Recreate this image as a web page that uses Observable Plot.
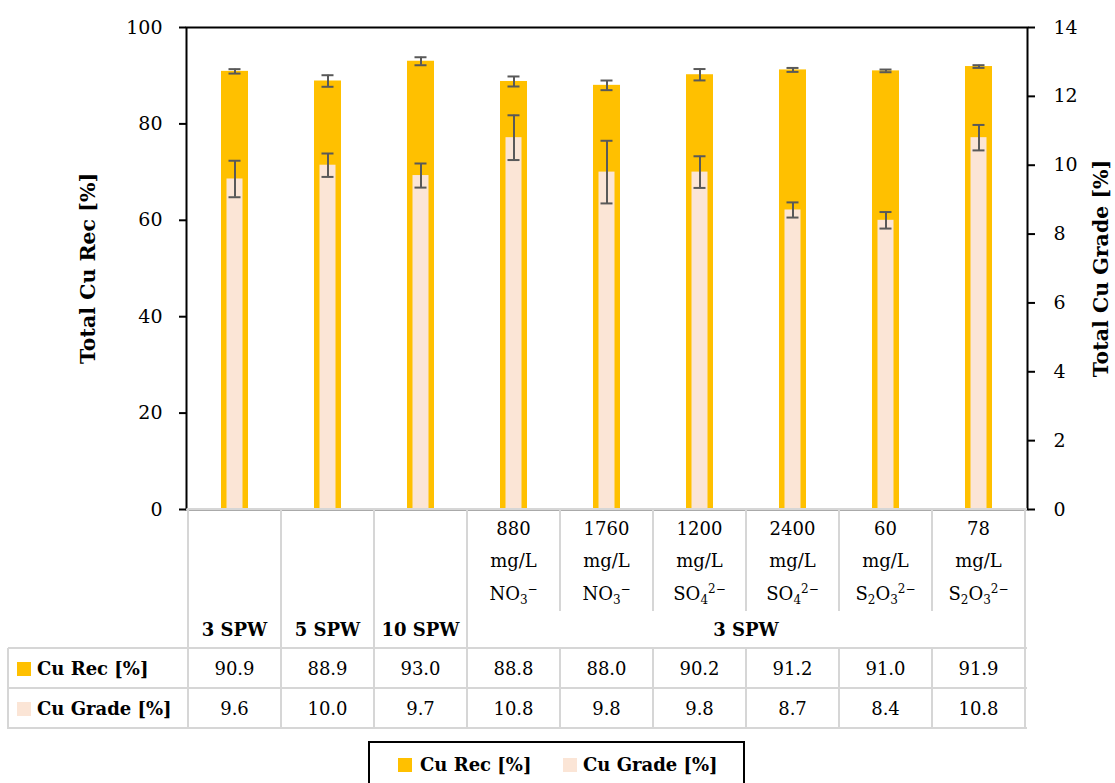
<!DOCTYPE html>
<html><head><meta charset="utf-8">
<script src="https://cdn.jsdelivr.net/npm/d3@7"></script>
<script src="https://cdn.jsdelivr.net/npm/@observablehq/plot@0.6"></script>
<style>
body{margin:0;background:#fff;}
#wrap{position:relative;width:1115px;height:783px;overflow:hidden;font-family:"DejaVu Serif",serif;color:#000;}
#wrap svg{position:absolute;left:0;top:0;}
.hl{position:absolute;height:2px;background:#d6d6d6;}
.vl{position:absolute;width:2px;background:#d6d6d6;}
.t{position:absolute;font-size:18px;line-height:18px;white-space:nowrap;transform:translate(-50%,-50%);}
.b{font-weight:bold;}
.t sub,.t sup{font-size:12px;line-height:0;}
.t sub{vertical-align:-4px;}
.t sup{vertical-align:7px;}
.sw{position:absolute;width:14px;height:14px;}
</style></head><body><div id="wrap"></div>
<script>
// ---- data ----
const categories = ["3 SPW", "5 SPW", "10 SPW", "880 NO3", "1760 NO3", "1200 SO4", "2400 SO4", "60 S2O3", "78 S2O3"];
const spwLabels = ["3 SPW", "5 SPW", "10 SPW", "", "", "", "", "", ""];
const concentrations = ["", "", "", "880", "1760", "1200", "2400", "60", "78"];
const units = ["", "", "", "mg/L", "mg/L", "mg/L", "mg/L", "mg/L", "mg/L"];
const ions = ["", "", "", "NO<sub>3</sub><sup>−</sup>", "NO<sub>3</sub><sup>−</sup>", "SO<sub>4</sub><sup>2−</sup>", "SO<sub>4</sub><sup>2−</sup>", "S<sub>2</sub>O<sub>3</sub><sup>2−</sup>", "S<sub>2</sub>O<sub>3</sub><sup>2−</sup>"];
const groupLabel = "3 SPW";
const recValues = [90.9, 88.9, 93.0, 88.8, 88.0, 90.2, 91.2, 91.0, 91.9];
const recErrors = [0.46, 1.2, 0.83, 1.04, 1.0, 1.18, 0.41, 0.28, 0.28];
const gradeValues = [9.6, 10.0, 9.7, 10.8, 9.8, 9.8, 8.7, 8.4, 10.8];
const gradeErrors = [0.53, 0.34, 0.35, 0.65, 0.91, 0.46, 0.22, 0.24, 0.37];
const leftTicks = [0, 20, 40, 60, 80, 100];
const rightTicks = [0, 2, 4, 6, 8, 10, 12, 14];
const recLabel = "Cu Rec [%]";
const gradeLabel = "Cu Grade [%]";
const leftTitle = "Total Cu Rec [%]";
const rightTitle = "Total Cu Grade [%]";

const recColor = "#FFC000";
const gradeColor = "#FBE5D6";
const errColor = "#595959";
const ratio = 100 / 14; // right axis max 14 maps to left axis max 100

const rows = categories.map((c, i) => ({
  cat: c,
  rec: recValues[i], recErr: recErrors[i],
  grade: gradeValues[i] * ratio, gradeErr: gradeErrors[i] * ratio
}));

const cap = {x: "cat", stroke: errColor, strokeWidth: 2, insetLeft: 40.5, insetRight: 40.5};

const chart = Plot.plot({
  width: 1115, height: 530,
  marginTop: 27, marginBottom: 21, marginLeft: 186, marginRight: 88,
  style: {fontFamily: "DejaVu Serif", fontSize: "18px", color: "#000", background: "transparent"},
  x: {domain: categories, padding: 0, axis: null},
  y: {domain: [0, 100], axis: null},
  marks: [
    Plot.barY(rows, {x: "cat", y: "rec", fill: recColor, insetLeft: 33, insetRight: 33}),
    Plot.barY(rows, {x: "cat", y: "grade", fill: gradeColor, insetLeft: 38.5, insetRight: 38.5}),
    Plot.ruleX(rows, {x: "cat", y1: d => d.rec - d.recErr, y2: d => d.rec + d.recErr, stroke: errColor, strokeWidth: 2}),
    Plot.tickY(rows, {...cap, y: d => d.rec - d.recErr}),
    Plot.tickY(rows, {...cap, y: d => d.rec + d.recErr}),
    Plot.ruleX(rows, {x: "cat", y1: d => d.grade - d.gradeErr, y2: d => d.grade + d.gradeErr, stroke: errColor, strokeWidth: 2}),
    Plot.tickY(rows, {...cap, y: d => d.grade - d.gradeErr}),
    Plot.tickY(rows, {...cap, y: d => d.grade + d.gradeErr}),
    Plot.frame({stroke: "#000", strokeWidth: 2}),
    Plot.ruleY([0], {stroke: "#d6d6d6", strokeWidth: 2}),
    Plot.axisY(leftTicks, {anchor: "left", tickSize: 7, tickPadding: 17, strokeWidth: 2, label: null, fontSize: 19}),
    Plot.axisY(rightTicks.map(v => v * ratio), {anchor: "right", tickSize: 7, tickPadding: 19, strokeWidth: 2, label: null, fontSize: 19, tickFormat: v => String(Math.round(v / ratio))}),
    Plot.text([leftTitle], {frameAnchor: "left", rotate: -90, dx: -98, textAnchor: "middle", fontWeight: "bold", fontSize: 20.5}),
    Plot.text([rightTitle], {frameAnchor: "right", rotate: -90, dx: 74, textAnchor: "middle", fontWeight: "bold", fontSize: 20.5})
  ]
});

const wrap = document.getElementById("wrap");
wrap.appendChild(chart);

// ---- table below, aligned with the x scale ----
const xs = chart.scale("x");
const bw = xs.bandwidth;
const x0 = xs.apply(categories[0]);
const xEnd = xs.apply(categories[categories.length - 1]) + bw;
const tableTop = 509, splitY = 610, row1 = 648, row2 = 688, row3 = 728, tableLeft = 8;

function add(cls, style, html) {
  const d = document.createElement("div");
  d.className = cls;
  Object.assign(d.style, style);
  if (html != null) d.innerHTML = html;
  wrap.appendChild(d);
  return d;
}
function hl(xa, xb, y) { add("hl", {left: xa + "px", top: (y - 1) + "px", width: (xb - xa + 2) + "px"}); }
function vl(x, ya, yb) { add("vl", {left: (x - 1) + "px", top: ya + "px", height: (yb - ya + 1) + "px"}); }
function txt(cx, cy, html, bold) { add("t" + (bold ? " b" : ""), {left: cx + "px", top: cy + "px"}, html); }

hl(x0 - 1, xEnd, tableTop);
hl(tableLeft, xEnd, row1);
hl(tableLeft, xEnd, row2);
hl(tableLeft, xEnd, row3);
vl(tableLeft, row1, row3);
categories.forEach((c, i) => {
  const xl = xs.apply(c);
  if (i <= 3) vl(xl, tableTop, row3);
  else { vl(xl, tableTop, splitY); vl(xl, row1, row3); }
});
vl(xEnd, tableTop, row3);

categories.forEach((c, i) => {
  const cx = xs.apply(c) + bw / 2;
  if (spwLabels[i]) txt(cx, 630, spwLabels[i], true);
  if (concentrations[i]) {
    txt(cx, 529, concentrations[i], false);
    txt(cx, 561, units[i], false);
    txt(cx, 594, ions[i], false);
  }
  txt(cx, 669, recValues[i].toFixed(1), false);
  txt(cx, 709, gradeValues[i].toFixed(1), false);
});
txt((xs.apply(categories[3]) + xEnd) / 2, 630, groupLabel, true);

add("sw", {left: "17px", top: "662px", background: recColor});
add("t b", {left: "37px", top: "669px", transform: "translate(0,-50%)"}, recLabel);
add("sw", {left: "17px", top: "702px", background: gradeColor});
add("t b", {left: "37px", top: "709px", transform: "translate(0,-50%)"}, gradeLabel);

// ---- legend ----
add("", {position: "absolute", left: "368px", top: "741px", width: "377px", height: "60px", border: "2px solid #000", boxSizing: "border-box"});
add("sw", {left: "398px", top: "758px", background: recColor});
add("t b", {left: "420px", top: "765px", transform: "translate(0,-50%)"}, recLabel);
add("sw", {left: "563px", top: "758px", background: gradeColor});
add("t b", {left: "583px", top: "765px", transform: "translate(0,-50%)"}, gradeLabel);
</script></body></html>
